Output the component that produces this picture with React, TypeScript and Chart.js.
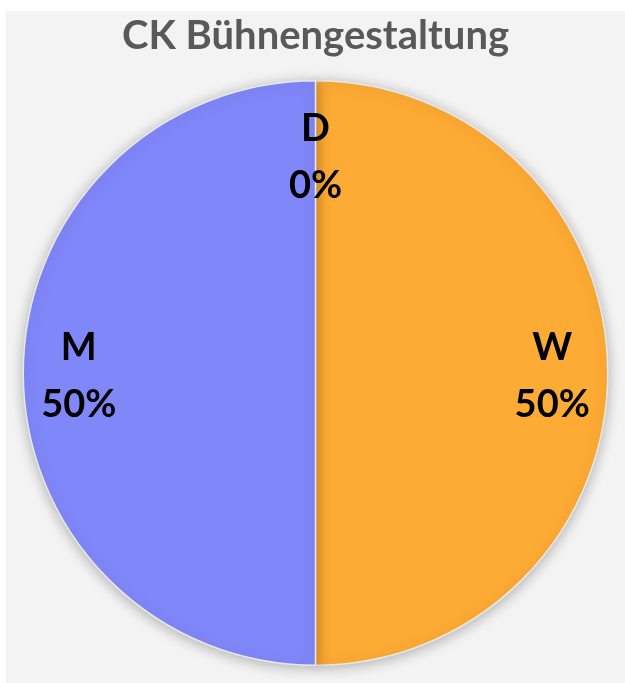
import React, { useEffect, useRef } from "react";
import { Chart, registerables } from "chart.js";

Chart.register(...registerables);

const TITLE = "CK Bühnengestaltung";
const categories = ["D", "W", "M"];
const values = [0, 50, 50];
const colors = ["#9e9e9e", "#FDAB34", "#8087F9"];

const shadowPlugin = {
  id: "pieShadow",
  beforeDatasetsDraw(chart: any) {
    const ctx = chart.ctx;
    ctx.save();
    ctx.shadowColor = "rgba(0,0,0,0.28)";
    ctx.shadowBlur = 14;
    ctx.shadowOffsetX = 0;
    ctx.shadowOffsetY = 2;
  },
  afterDatasetsDraw(chart: any) {
    chart.ctx.restore();
  },
};

const labelPlugin = {
  id: "sliceLabels",
  afterDraw(chart: any) {
    const ctx = chart.ctx;
    const meta = chart.getDatasetMeta(0);
    const data = chart.data.datasets[0].data as number[];
    const total = data.reduce((a, b) => a + b, 0);
    ctx.save();
    ctx.fillStyle = "#000000";
    ctx.textAlign = "center";
    ctx.textBaseline = "middle";
    ctx.font = "bold 38px Lato, 'Open Sans', sans-serif";
    meta.data.forEach((el: any, i: number) => {
      const p = el.getProps(["startAngle", "endAngle", "outerRadius", "x", "y"], true);
      const mid = (p.startAngle + p.endAngle) / 2;
      const cx = p.x + Math.cos(mid) * p.outerRadius * 0.81;
      const cy = p.y + Math.sin(mid) * p.outerRadius * 0.75 + 3;
      const pct = Math.round((data[i] / total) * 100) + "%";
      ctx.fillText(chart.data.labels[i], cx, cy - 28);
      ctx.fillText(pct, cx, cy + 29);
    });
    ctx.restore();
  },
};

export default function App() {
  const ref = useRef<HTMLCanvasElement>(null);
  useEffect(() => {
    document.body.style.margin = "0";
    const chart = new Chart(ref.current!, {
      type: "pie",
      data: {
        labels: categories,
        datasets: [
          {
            data: values,
            backgroundColor: colors,
            borderColor: "#e8e8e8",
            borderWidth: 1.5,
          },
        ],
      },
      options: {
        animation: false,
        responsive: false,
        layout: { padding: { top: 0, bottom: 17, left: 0, right: 0 } },
        plugins: {
          legend: { display: false },
          tooltip: { enabled: false },
          title: {
            display: true,
            text: TITLE,
            color: "#595959",
            font: { family: "Lato, 'Open Sans', sans-serif", size: 40, weight: "bold" },
            padding: { top: 1, bottom: 20 },
          },
        },
      },
      plugins: [shadowPlugin, labelPlugin],
    });
    return () => chart.destroy();
  }, []);
  return (
    <div style={{ width: 625, height: 683, background: "#ffffff", position: "relative" }}>
      <div
        style={{
          position: "absolute",
          left: 6,
          top: 11,
          width: 619,
          height: 672,
          background: "#f3f3f3",
        }}
      >
        <canvas ref={ref} width={619} height={672} style={{ display: "block" }} />
      </div>
    </div>
  );
}
